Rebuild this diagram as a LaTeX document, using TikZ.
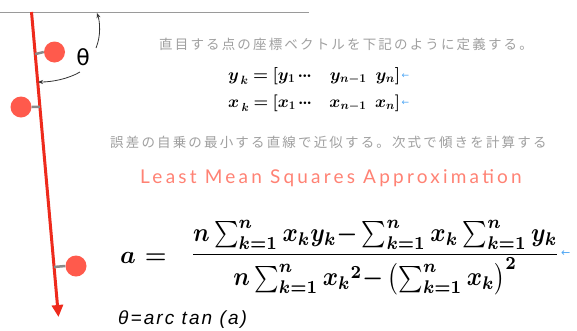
\documentclass[tikz,border=0pt]{standalone}
\usepackage{fontspec}
\usepackage{amsmath}
\usepackage{graphicx}
\usetikzlibrary{arrows.meta,calc}
\newfontfamily\jpfont{Noto Sans CJK JP}[LetterSpace=16]
\newfontfamily\lmsfont{Lato}[LetterSpace=17]
\newfontfamily\arialfont{Liberation Sans}[LetterSpace=11]
\newfontfamily\dvfont{DejaVu Sans}
\definecolor{jpgray}{HTML}{A0A0A0}
\definecolor{salmon}{HTML}{FF8274}
\definecolor{redline}{HTML}{EE2A1C}
\definecolor{dotred}{HTML}{FF5A4C}
\definecolor{conngray}{HTML}{8A8A8A}
\definecolor{markblue}{HTML}{4DA6F5}
\definecolor{axisgray}{HTML}{9A9A9A}
\newsavebox{\eqybox}
\newsavebox{\eqxbox}
\newsavebox{\eqabox}
\newsavebox{\eqfbox}
\newcommand{\lowk}{\lower2pt\hbox{$\scriptstyle k$}}
\newcommand{\tdots}{\mkern2mu{\cdot}\mkern-1mu{\cdot}\mkern-1mu{\cdot}}
\tikzset{
  datadot/.style={circle, fill=dotred, draw=none, minimum size=21pt, inner sep=0},
  conn/.style={draw=conngray, line width=2.5pt},
  anglearrow/.style={draw=black!80, line width=0.8pt, -{Stealth[length=5pt,width=4pt]}},
  jptext/.style={anchor=west, inner sep=0, text=jpgray, font=\jpfont\fontsize{13.5}{15}\selectfont},
  bluemark/.style={inner sep=0, text=markblue, font=\dvfont\fontsize{9}{10}\selectfont},
}
\begin{document}
\sbox{\eqybox}{\resizebox{172pt}{!}{\fontsize{17}{20}\selectfont\mathversion{bold}\thickmuskip=4mu$y_{\,\lowk} = [y_1\tdots\hspace{18pt} y_{n-1}\hspace{9pt} y_n]$}}%
\sbox{\eqxbox}{\resizebox{172pt}{!}{\fontsize{17}{20}\selectfont\mathversion{bold}\thickmuskip=4mu$x_{\,\lowk} = [x_1\tdots\hspace{18pt} x_{n-1}\hspace{9pt} x_n]$}}%
\sbox{\eqabox}{{\fontsize{40}{44}\selectfont\mathversion{bold}$a$}\hspace{9pt}{\fontsize{30}{33}\selectfont\mathversion{bold}$=$}}%
\sbox{\eqfbox}{\resizebox*{370pt}{75pt}{\mathversion{bold}$\displaystyle\frac{n\sum_{k=1}^{n} x_k y_k{-}\sum_{k=1}^{n} x_k \sum_{k=1}^{n} y_k}{n\sum_{k=1}^{n} {x_k}^2{-}\left(\sum_{k=1}^{n} x_k\right)^2}$}}%
\begin{tikzpicture}[x=1pt,y=-1pt]
\useasboundingbox (0,0) rectangle (577,330);
\fill[white] (0,0) rectangle (577,330);
% top axis line
\coordinate (axL) at (0,12);
\coordinate (axR) at (309,12);
\draw[axisgray, line width=1pt] (axL) -- (axR);
% red regression line
\coordinate (ltop) at (31.5,12);
\coordinate (lbot) at (58.5,317);
\draw[redline, line width=3pt, -{Triangle[width=11pt,length=12pt]}] (ltop) -- (lbot);
% dots
\node[datadot] (d1) at (54.5,52) {};
\node[datadot] (d2) at (21,107) {};
\node[datadot] (d3) at (76,266) {};
\coordinate (p1) at ($(ltop)!0.138!(lbot)$);
\coordinate (p2) at ($(ltop)!0.311!(lbot)$);
\coordinate (p3) at ($(ltop)!0.836!(lbot)$);
\draw[conn] (p1) -- (d1.west);
\draw[conn] (d2.east) -- (p2);
\draw[conn] (p3) -- (d3.west);
% angle
\node[inner sep=0, font=\dvfont\fontsize{22}{24}\selectfont] (th) at (83,57) {θ};
\coordinate (a1s) at (96,48);
\coordinate (a1e) at (97,13);
\coordinate (a2s) at (80,72);
\coordinate (a2e) at (38,82);
\draw[anglearrow] (a1s) .. controls (101,36) and (100,22) .. (a1e);
\draw[anglearrow] (a2s) .. controls (68,79) and (52,82) .. (a2e);
% texts
\node[jptext] (t1) at (159,44) {直目する点の座標ベクトルを下記のように定義する。};
\node[anchor=west, inner sep=0] (ey) at (228,76) {\usebox{\eqybox}};
\node[bluemark, anchor=west] (my) at ([xshift=1pt]ey.east) {←};
\node[anchor=west, inner sep=0] (ex) at (228,103) {\usebox{\eqxbox}};
\node[bluemark, anchor=west] (mx) at ([xshift=1pt]ex.east) {←};
\node[jptext] (t2) at (110,142) {誤差の自乗の最小する直線で近似する。次式で傾きを計算する};
\node[anchor=west, inner sep=0, text=salmon, font=\lmsfont\fontsize{19}{22}\selectfont] (lms) at (140,178) {Least Mean Squares Approximation};
\node[anchor=base west, inner sep=0] (fa) at (120,263) {\usebox{\eqabox}};
\node[anchor=west, inner sep=0] (ff) at (190,257.5) {\usebox{\eqfbox}};
\node[bluemark, anchor=west, font=\dvfont\fontsize{11}{12}\selectfont] (mf) at (561,254) {←};
\node[anchor=base west, inner sep=0, font=\arialfont\itshape\fontsize{19}{22}\selectfont] (th2) at (118,324) {θ=arc tan (a)};
\end{tikzpicture}
\end{document}
